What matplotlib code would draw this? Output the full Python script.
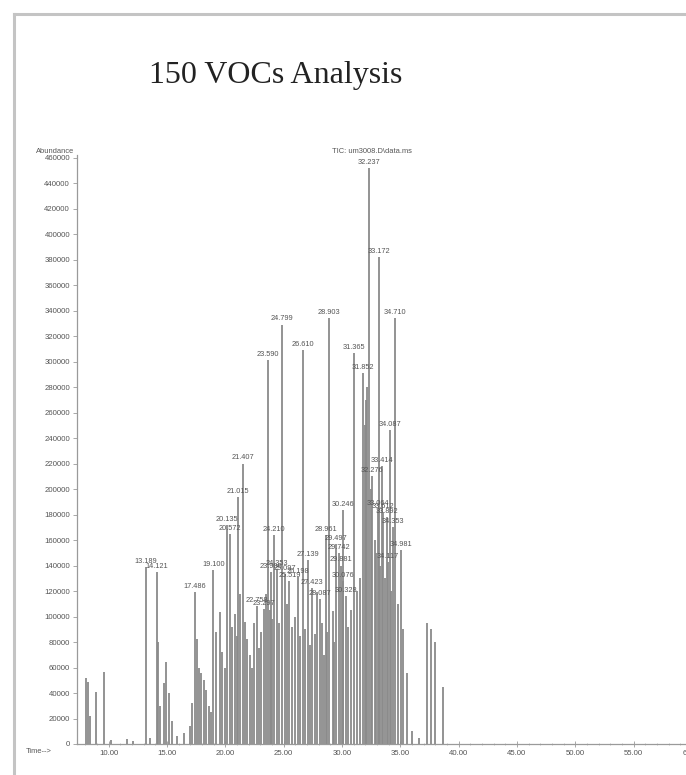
import matplotlib.pyplot as plt
from matplotlib.lines import Line2D
from matplotlib.ticker import MultipleLocator, FormatStrFormatter

# Peak list: retention time (min), abundance, label
peak_rt = [
    8.04, 8.28, 8.45, 8.90, 9.62, 10.25, 11.55, 12.10,
    13.19, 13.55, 14.12, 14.25, 14.45, 14.75, 14.95, 15.15, 15.40, 15.90,
    16.50, 16.95, 17.15, 17.41, 17.60, 17.78, 17.95, 18.15, 18.35, 18.60,
    18.80, 18.98, 19.25, 19.55, 19.75, 19.95, 20.18, 20.40, 20.60, 20.80,
    21.00, 21.10, 21.30, 21.55, 21.70, 21.90, 22.10, 22.30, 22.50, 22.75,
    22.90, 23.10, 23.30, 23.50, 23.67, 23.80, 23.95, 24.05, 24.21, 24.40,
    24.60, 24.84, 25.10, 25.30, 25.50, 25.70, 25.95, 26.20, 26.40, 26.64,
    26.85, 27.05, 27.25, 27.45, 27.65, 27.90, 28.10, 28.30, 28.45, 28.62,
    28.75, 28.92, 29.20, 29.35, 29.50, 29.75, 29.90, 30.05, 30.10, 30.35,
    30.55, 30.80, 31.06, 31.30, 31.55, 31.80, 31.95, 32.05, 32.15, 32.32,
    32.45, 32.60, 32.80, 32.95, 33.10, 33.18, 33.30, 33.45, 33.55, 33.70,
    33.90, 33.95, 34.10, 34.20, 34.35, 34.55, 34.80, 35.06, 35.25, 35.58,
    36.00, 36.60, 37.30, 37.65, 37.95, 38.63,
]
peak_height = [
    51800, 48600, 22000, 40800, 56500, 3500, 4000, 2500,
    138800, 5000, 135000, 80000, 30000, 48000, 64000, 40000, 18000, 6000,
    9000, 14000, 32000, 119000, 82000, 60000, 56000, 50000, 42000, 30000,
    25000, 136500, 88000, 103500, 72000, 60000, 172000, 165000, 92000, 102000,
    85000, 194000, 118000, 220000, 96000, 82000, 70000, 60000, 95000, 108000,
    75000, 88000, 106000, 118000, 301000, 105000, 135000, 98000, 164000, 137000,
    95000, 329000, 133000, 110000, 128000, 92000, 100000, 131000, 85000, 309000,
    90000, 144000, 78000, 122000, 86000, 119000, 114000, 95000, 70000, 164000,
    88000, 334000, 104000, 80000, 157000, 150000, 140000, 183500, 128000, 116000,
    92000, 105000, 307000, 120000, 130000, 291000, 250000, 270000, 280000, 452000,
    200000, 210000, 160000, 150000, 184000, 382000, 140000, 218000, 182000, 130000,
    178000, 143000, 246000, 120000, 170000, 334000, 110000, 152000, 90000, 56000,
    10000, 5000, 95000, 90000, 80000, 45000,
]
peak_label = {
    13.19: "13.189", 14.12: "14.121", 17.41: "17.486", 18.98: "19.100",
    20.18: "20.135", 20.40: "20.572", 21.10: "21.015", 21.55: "21.407",
    22.75: "22.758", 23.30: "23.297", 23.67: "23.590", 23.95: "23.906",
    24.21: "24.210", 24.40: "24.353", 24.84: "24.799", 25.10: "25.097",
    25.50: "25.519", 26.20: "26.198", 26.64: "26.610", 27.05: "27.139",
    27.45: "27.423", 28.10: "28.087", 28.62: "28.961", 28.92: "28.903",
    29.50: "29.497", 29.75: "29.742", 29.90: "29.881", 30.05: "30.246",
    30.10: "30.076", 30.35: "30.328", 31.06: "31.365", 31.80: "31.852",
    32.32: "32.237", 32.60: "32.276", 33.10: "33.064", 33.18: "33.172",
    33.45: "33.414", 33.55: "33.612", 33.90: "33.892", 33.95: "34.117",
    34.10: "34.087", 34.35: "34.353", 34.55: "34.710", 35.06: "34.981",
}

x_ticks = [10, 15, 20, 25, 30, 35, 40, 45, 50, 55, 60]
y_ticks = list(range(0, 460001, 20000))

fig = plt.figure(figsize=(6.86, 7.75), dpi=100)

# grey frame round the picture (right and bottom edges fall outside)
fig.add_artist(Line2D([14 / 686, 14 / 686], [0, 1 - 14 / 775], color="#c4c4c4", lw=2.2))
fig.add_artist(Line2D([14 / 686, 1], [1 - 14 / 775, 1 - 14 / 775], color="#c4c4c4", lw=2.2))

fig.text(276 / 686, 1 - 75 / 775, "150 VOCs Analysis", ha="center", va="center",
         fontsize=23, family="Liberation Serif", color="#222222")

ax = fig.add_axes([77 / 686, 31 / 775, 623 / 686, 589 / 775])
ax.vlines(peak_rt, 0, peak_height, color="#8a8a8a", lw=1.3)

for rt, h in zip(peak_rt, peak_height):
    if rt in peak_label:
        ax.annotate(peak_label[rt], (rt, h), xytext=(0, 1.5), textcoords="offset points",
                    ha="center", va="bottom", fontsize=5.3, color="#555555",
                    family="Liberation Sans")

ax.set_xlim(7.30, 60.68)
ax.set_ylim(0, 462000)
ax.set_xticks(x_ticks)
ax.xaxis.set_major_formatter(FormatStrFormatter("%.2f"))
ax.xaxis.set_minor_locator(MultipleLocator(1))
ax.set_yticks(y_ticks)
ax.set_yticklabels([str(v) for v in y_ticks])

for s in ["top", "right"]:
    ax.spines[s].set_visible(False)
for s in ["left", "bottom"]:
    ax.spines[s].set_color("#9a9a9a")
    ax.spines[s].set_linewidth(0.9)

ax.tick_params(axis="both", labelsize=5.6, labelcolor="#555555", color="#9a9a9a",
               length=3, width=0.6, pad=2)
ax.tick_params(axis="x", direction="inout", length=4)
ax.tick_params(axis="x", which="minor", direction="inout", length=2, width=0.5, color="#b0b0b0")
for lbl in ax.get_xticklabels() + ax.get_yticklabels():
    lbl.set_family("Liberation Sans")

ax.text(-0.005, 1.0, "Abundance", transform=ax.transAxes, ha="right", va="bottom",
        fontsize=5.4, color="#555555", family="Liberation Sans")
ax.text(-0.083, -0.013, "Time-->", transform=ax.transAxes, ha="left", va="center",
        fontsize=5.4, color="#555555", family="Liberation Sans")
ax.text(32.6, 462000, "TIC: um3008.D\\data.ms", ha="center", va="bottom",
        fontsize=5.4, color="#555555", family="Liberation Sans", clip_on=False)

fig.savefig("out.png", dpi=100)
